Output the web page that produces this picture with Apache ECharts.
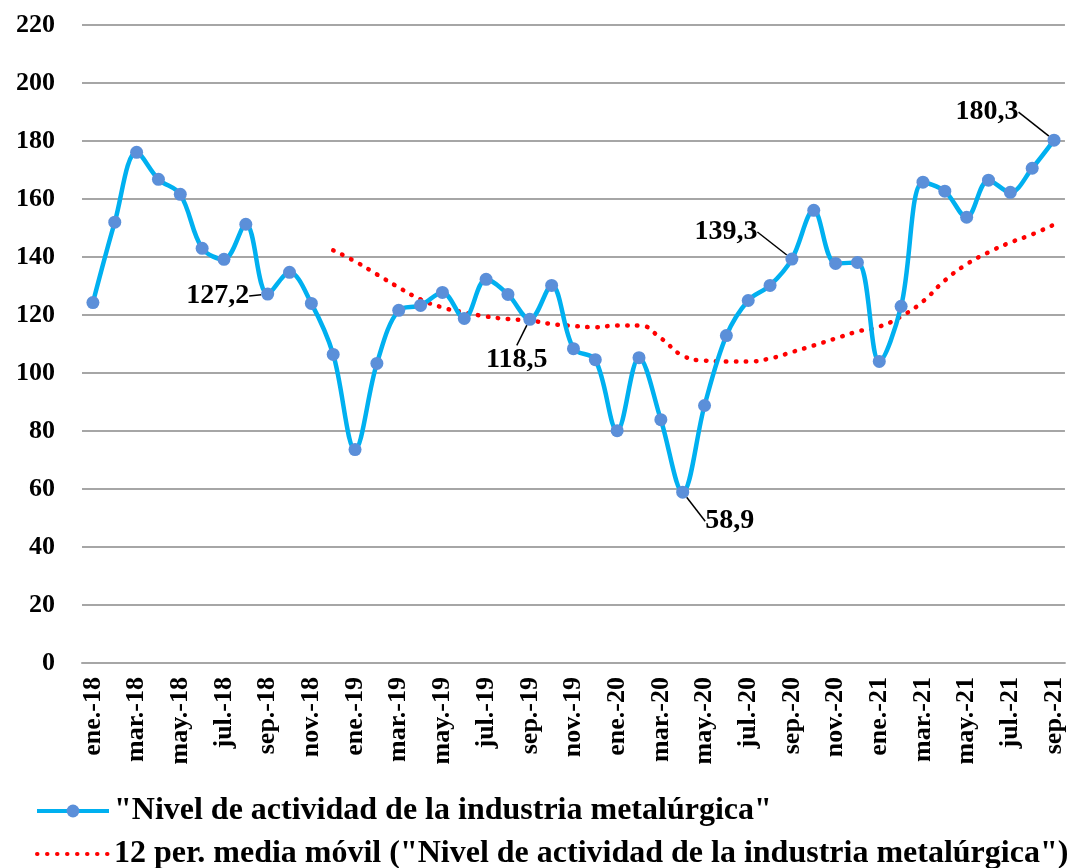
<!DOCTYPE html>
<html>
<head>
<meta charset="utf-8">
<script src="https://cdn.jsdelivr.net/npm/echarts@6/dist/echarts.min.js"></script>
<style>
  html, body { margin: 0; padding: 0; background: #fff; }
  #chart { width: 1067px; height: 868px; }
</style>
</head>
<body>
<div id="chart"></div>
<script>
// months ene-18 .. sep-21
const months = [
  'ene.-18','feb.-18','mar.-18','abr.-18','may.-18','jun.-18','jul.-18','ago.-18','sep.-18','oct.-18','nov.-18','dic.-18',
  'ene.-19','feb.-19','mar.-19','abr.-19','may.-19','jun.-19','jul.-19','ago.-19','sep.-19','oct.-19','nov.-19','dic.-19',
  'ene.-20','feb.-20','mar.-20','abr.-20','may.-20','jun.-20','jul.-20','ago.-20','sep.-20','oct.-20','nov.-20','dic.-20',
  'ene.-21','feb.-21','mar.-21','abr.-21','may.-21','jun.-21','jul.-21','ago.-21','sep.-21'
]

const nivel = [
  124.3, 152.0, 176.1, 166.8, 161.6, 143.0, 139.2, 151.3, 127.2, 134.7, 124.0, 106.4,
  73.6, 103.3, 121.6, 123.3, 127.8, 118.8, 132.3, 127.1, 118.5, 130.2, 108.4, 104.6,
  80.1, 105.3, 83.9, 58.9, 88.8, 112.9, 125.0, 130.2, 139.3, 156.1, 137.8, 138.1,
  104.0, 123.0, 165.8, 162.7, 153.7, 166.5, 162.3, 170.6, 180.3
]

// 12 per. media movil (starts at dic-18)
const mediaMovil = [
  null, null, null, null, null, null, null, null, null, null, null, 142.3,
  138.5, 134.0, 129.5, 125.4, 122.6, 120.9, 119.5, 118.6, 118.1, 116.9, 116.2, 115.8,
  116.4, 116.4, 112.0, 106.0, 104.3, 104.0, 104.0, 105.0, 107.2, 109.5, 111.9, 114.3,
  116.0, 119.5, 124.7, 131.9, 137.5, 141.6, 145.0, 147.8, 151.2
]

// points that carry a value label
const labelled = [8, 20, 27, 32, 44]

const yTicks = { min: 0, max: 220, interval: 20 }

const font = 'Liberation Serif, Times New Roman, serif'
const labelShift = { 8: [-50, 2], 20: [-13, 40], 27: [47, 29], 32: [-66, -27], 44: [-67, -28] }

const nameA = '"Nivel de actividad de la industria metalúrgica"'
const nameB = '12 per. media móvil ("Nivel de actividad de la industria metalúrgica")'

const chart = echarts.init(document.getElementById('chart'))

chart.setOption({
  animation: false,
  textStyle: { fontFamily: font },
  grid: { left: 82, right: 0, top: 25, bottom: 205, containLabel: false },
  legend: {
    orient: 'vertical',
    left: 30,
    top: 790,
    height: 120,
    itemWidth: 72,
    itemHeight: 16,
    itemGap: 11,
    textStyle: { fontFamily: font, fontWeight: 'bold', fontSize: 32, color: '#000' },
    data: [
      { name: nameA, lineStyle: { width: 4 } },
      { name: nameB, itemStyle: { opacity: 0 }, lineStyle: { width: 4 } }
    ]
  },
  xAxis: {
    type: 'category',
    data: months,
    boundaryGap: true,
    axisLine: { lineStyle: { color: '#a6a6a6', width: 2 } },
    axisTick: { show: false },
    axisLabel: {
      interval: 1,
      rotate: 90,
      margin: 14,
      fontFamily: font,
      fontWeight: 'bold',
      fontSize: 26,
      color: '#000'
    }
  },
  yAxis: {
    type: 'value',
    min: yTicks.min,
    max: yTicks.max,
    interval: yTicks.interval,
    axisLine: { show: false },
    axisTick: { show: false },
    splitLine: { lineStyle: { color: '#a6a6a6', width: 2 } },
    axisLabel: {
      margin: 27,
      fontFamily: font,
      fontWeight: 'bold',
      fontSize: 26,
      color: '#000'
    }
  },
  series: [
    {
      name: nameA,
      type: 'line',
      smooth: 0.35,
      symbol: 'circle',
      symbolSize: 13,
      z: 3,
      lineStyle: { color: '#00b0f0', width: 4.5 },
      itemStyle: { color: '#5b8fd9' },
      data: nivel.map((v, i) => ({
        value: v,
        label: {
          show: labelled.includes(i),
          position: 'inside',
          formatter: p => p.value.toFixed(1).replace('.', ','),
          fontFamily: font,
          fontWeight: 'bold',
          fontSize: 28,
          color: '#000'
        }
      })),
      labelLine: { show: true, lineStyle: { color: '#000', width: 1.5 } },
      labelLayout: function (p) {
        const s = labelShift[p.dataIndex]
        if (!s) return {}
        return { dx: s[0], dy: s[1] }
      }
    },
    {
      name: nameB,
      type: 'line',
      smooth: 0.5,
      symbol: 'none',
      z: 2,
      lineStyle: { color: '#ff0000', width: 4.5, type: [0.5, 9.5], cap: 'round' },
      itemStyle: { color: '#ff0000' },
      data: mediaMovil
    }
  ]
})
</script>
</body>
</html>
